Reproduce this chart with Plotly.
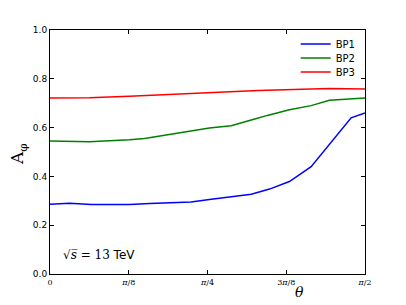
import numpy as np
import plotly.graph_objects as go

HALF_PI = np.pi / 2

# theta given as fraction of pi/2
bp1_t = [0, 0.062, 0.131, 0.252, 0.317, 0.448, 0.506, 0.639, 0.697, 0.760, 0.829, 0.890, 0.956, 1.0]
bp1_a = [0.286, 0.290, 0.285, 0.285, 0.289, 0.295, 0.305, 0.327, 0.348, 0.379, 0.440, 0.535, 0.640, 0.660]

bp2_t = [0, 0.125, 0.252, 0.30, 0.506, 0.575, 0.65, 0.69, 0.76, 0.829, 0.887, 1.0]
bp2_a = [0.545, 0.542, 0.550, 0.555, 0.598, 0.608, 0.635, 0.650, 0.673, 0.690, 0.712, 0.721]

bp3_t = [0, 0.125, 0.252, 0.40, 0.506, 0.66, 0.887, 1.0]
bp3_a = [0.721, 0.722, 0.728, 0.736, 0.741, 0.752, 0.760, 0.758]

series_names = ["BP1", "BP2", "BP3"]
series_colors = ["#0000ff", "#008000", "#ff0000"]

x_tickvals = [0, np.pi / 8, np.pi / 4, 3 * np.pi / 8, np.pi / 2]
x_ticktext = ["0", "<i>π</i>/8", "<i>π</i>/4", "3<i>π</i>/8", "<i>π</i>/2"]
y_tickvals = [0.0, 0.2, 0.4, 0.6, 0.8, 1.0]
y_ticktext = ["0.0", "0.2", "0.4", "0.6", "0.8", "1.0"]

legend_ids = ["legend", "legend2", "legend3"]
legend_rows = [0.943, 0.885, 0.828]

fig = go.Figure()
for t, a, name, col, lg in zip([bp1_t, bp2_t, bp3_t], [bp1_a, bp2_a, bp3_a],
                               series_names, series_colors, legend_ids):
    fig.add_trace(go.Scatter(
        x=[v * HALF_PI for v in t], y=a, mode="lines", name=name,
        line=dict(color=col, width=1.5), legend=lg,
    ))

axis_common = dict(
    showgrid=False, zeroline=False, showline=True, linecolor="black", linewidth=1,
    mirror="ticks", ticks="inside", ticklen=4, tickcolor="black", tickwidth=1,
)

legend_common = dict(
    x=0.78, xanchor="left", yanchor="middle",
    bgcolor="rgba(0,0,0,0)", borderwidth=0,
    font=dict(family="DejaVu Sans", size=10, color="black"),
)

fig.update_layout(
    width=406, height=305,
    margin=dict(l=50, r=41, t=30, b=31, autoexpand=False),
    paper_bgcolor="white", plot_bgcolor="white",
    showlegend=True,
    legend=dict(y=legend_rows[0], **legend_common),
    legend2=dict(y=legend_rows[1], **legend_common),
    legend3=dict(y=legend_rows[2], **legend_common),
    xaxis=dict(
        range=[0, HALF_PI], tickvals=x_tickvals, ticktext=x_ticktext,
        tickfont=dict(family="DejaVu Serif", size=8, color="black"),
        **axis_common,
    ),
    yaxis=dict(
        range=[0, 1], tickvals=y_tickvals, ticktext=y_ticktext,
        tickfont=dict(family="DejaVu Sans", size=9, color="black"),
        **axis_common,
    ),
    annotations=[
        dict(text="A<sub>φ</sub>", xref="paper", yref="paper", x=-0.1, y=0.49,
             xanchor="center", yanchor="middle", showarrow=False, textangle=-90,
             font=dict(family="DejaVu Serif", size=17, color="black")),
        dict(text="<i>θ</i>", xref="paper", yref="paper", x=0.792, y=-0.074,
             xanchor="center", yanchor="middle", showarrow=False,
             font=dict(family="DejaVu Serif", size=14, color="black")),
        dict(text="√<i>s\u0305</i> = 13 <span style='font-family:DejaVu Sans'>TeV</span>",
             xref="paper", yref="paper", x=0.035, y=0.078,
             xanchor="left", yanchor="middle", showarrow=False,
             font=dict(family="DejaVu Serif", size=12, color="black")),
    ],
)

fig.write_html("out.html", config={"displayModeBar": False},
               post_script="document.body.style.margin='0';")
